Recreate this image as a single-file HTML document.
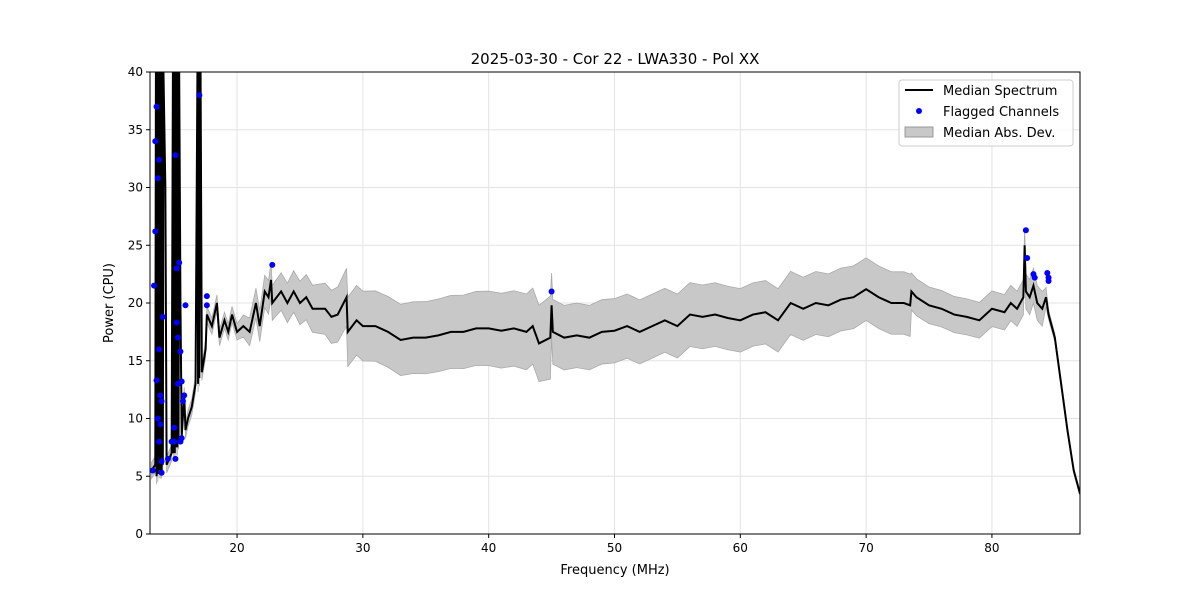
<!DOCTYPE html>
<html><head><meta charset="utf-8"><style>
body{margin:0;background:#fff;}
svg text{font-family:"DejaVu Sans","Liberation Sans",sans-serif;fill:#000;}
</style></head><body>
<svg width="1200" height="600">
<defs><clipPath id="cp"><rect x="150" y="72" width="930" height="462"/></clipPath></defs>
<g id="grid"></g>
<g id="band" clip-path="url(#cp)"></g>
<g id="line"></g>
<g id="pts"></g>
<g id="axes"></g>
<text x="615" y="64" font-size="15" text-anchor="middle">2025-03-30 - Cor 22 - LWA330 - Pol XX</text>
<text x="615" y="574" font-size="13" text-anchor="middle">Frequency (MHz)</text>
<text x="113" y="303" font-size="13" text-anchor="middle" transform="rotate(-90 113 303)">Power (CPU)</text>
<g>
<rect x="899" y="80" width="174" height="66" rx="3" fill="#fff" fill-opacity="0.8" stroke="#ccc"/>
<line x1="905" y1="90" x2="933" y2="90" stroke="#000" stroke-width="2"/>
<text x="943" y="95" font-size="13">Median Spectrum</text>
<circle cx="919" cy="111" r="3" fill="#00f"/>
<text x="943" y="116" font-size="13">Flagged Channels</text>
<rect x="905" y="127" width="28" height="10" fill="#c8c8c8" stroke="#999"/>
<text x="943" y="137" font-size="13">Median Abs. Dev.</text>
</g>
</svg>
<script>
const medFreq=[13.2,13.5,13.55,13.6,13.65,13.7,13.75,13.8,13.85,13.9,13.95,14.0,14.05,14.1,14.15,14.3,14.4,14.6,14.8,14.9,14.95,15.0,15.05,15.1,15.15,15.2,15.25,15.3,15.35,15.4,15.5,15.6,15.8,15.9,16.1,16.4,16.7,16.85,16.9,16.95,17.0,17.05,17.1,17.2,17.5,17.6,18,18.4,18.6,19,19.3,19.6,20,20.5,21,21.5,21.8,22.2,22.5,22.7,22.8,23.5,24,24.5,25,25.5,26,27,27.5,28,28.7,28.8,29.5,30,31,32,33,34,35,36,37,38,39,40,41,42,43,43.5,44,44.9,45,45.1,46,47,48,49,50,51,52,53,54,55,56,57,58,59,60,61,62,63,64,65,66,67,68,69,70,71,72,73,73.5,73.6,74,75,76,77,78,79,80,81,81.5,82,82.5,82.6,82.7,83,83.3,83.6,84,84.3,84.5,85,85.5,86,86.5,87];
const medVal=[5.5,6,40,5,40,5.2,40,5.5,40,5.5,40,5.5,40,6,40,30,6,6.5,7,40,7,40,7,40,7.5,40,7.5,40,8,40,20,8.5,12,9,10,11,13,40,13,40,13.5,40,40,14,16,19,18,20,17,18.5,17.5,19,17.5,18,17.5,20,18,21,20.5,22,20,21,20,21,20,20.5,19.5,19.5,18.8,19,20.5,17.5,18.5,18,18,17.5,16.8,17,17,17.2,17.5,17.5,17.8,17.8,17.6,17.8,17.5,18,16.5,17,19.8,17.5,17,17.2,17,17.5,17.6,18,17.5,18,18.5,18,19,18.8,19,18.7,18.5,19,19.2,18.5,20,19.5,20,19.8,20.3,20.5,21.2,20.5,20,20,19.8,21,20.5,19.8,19.5,19,18.8,18.5,19.5,19.2,20,19.5,20.5,25,21,20.5,21.5,20,19.5,20.5,19,17,13,9,5.5,3.5];
const madFreq=[13.2,20,21,28.7,28.8,44,44.9,45,73.5,73.6,84,84.5,87];
const madVal=[0.7,0.7,1.2,2.5,3,3.3,3.6,2.8,2.7,1.6,1.5,0.4,0.2];
const flagFreq=[13.3,13.4,13.5,13.5,13.6,13.6,13.7,13.8,13.8,13.9,14.0,14.0,13.9,14.1,13.7,13.8,14.0,14.5,14.8,15.1,15.0,15.1,15.2,15.3,15.2,15.4,15.5,15.3,15.6,15.7,15.8,15.9,15.5,15.6,15.0,17.0,17.6,17.6,22.8,45.0,82.7,82.8,83.3,83.4,84.4,84.5,84.5];
const flagVal=[5.5,21.5,26.2,34,37,13.3,30.8,16,32.4,12,11.5,5.3,9.5,18.8,10,8,6.3,6.5,8,32.8,9.2,6.5,18.3,17,23,23.5,15.8,13,13.2,11.5,12,19.8,8,8.3,8,38,20.6,19.8,23.3,21,26.3,23.9,22.5,22.2,22.6,22.2,21.9];
const xTicks=[20,30,40,50,60,70,80];
const yTicks=[0,5,10,15,20,25,30,35,40];
const L=150,R=1080,T=72,B=534,X0=13.08,X1=87.0,Y0=0,Y1=40;
const xs=f=>L+(f-X0)/(X1-X0)*(R-L);
const ys=v=>B-(Math.min(v,42)-Y0)/(Y1-Y0)*(B-T);
const NS='http://www.w3.org/2000/svg';
function mk(t,a,p){const e=document.createElementNS(NS,t);for(const k in a)e.setAttribute(k,a[k]);p.appendChild(e);return e;}
function interp(fs,vs,f){for(let i=1;i<fs.length;i++){if(f<=fs[i]){const t=(f-fs[i-1])/(fs[i]-fs[i-1]);return vs[i-1]+t*(vs[i]-vs[i-1]);}}return vs[vs.length-1];}
const grid=document.getElementById('grid'),axes=document.getElementById('axes');
xTicks.forEach(t=>{const x=xs(t);
const g=mk('line',{x1:x,x2:x,y1:T,y2:B,stroke:'#e3e3e3'},grid);

mk('line',{x1:x,x2:x,y1:B,y2:B+4,stroke:'#000'},axes);
const tx=mk('text',{x:x,y:B+18,'font-size':12,'text-anchor':'middle'},axes);tx.textContent=t;
});
yTicks.forEach(t=>{const y=ys(t);
const g=mk('line',{x1:L,x2:R,y1:y,y2:y,stroke:'#e3e3e3'},grid);

mk('line',{x1:L-4,x2:L,y1:y,y2:y,stroke:'#000'},axes);
const tx=mk('text',{x:L-7,y:y+4,'font-size':12,'text-anchor':'end'},axes);tx.textContent=t;
});
const frame=mk('rect',{x:L,y:T,width:R-L,height:B-T,fill:'none',stroke:'#000'},axes);

let up=[],lo=[];
medFreq.forEach((f,i)=>{const m=interp(madFreq,madVal,f);const v=Math.min(medVal[i],40);up.push(xs(f)+','+ys(v+m));lo.push(xs(f)+','+ys(Math.max(v-m,0)));});
const band=mk('polygon',{points:up.concat(lo.reverse()).join(' '),fill:'#c8c8c8',stroke:'#aaa','stroke-width':0.8},document.getElementById('band'));

const ln=mk('polyline',{points:medFreq.map((f,i)=>xs(f)+','+ys(medVal[i])).join(' '),fill:'none',stroke:'#000','stroke-width':2,'clip-path':'url(#cp)'},document.getElementById('line'));

const pts=document.getElementById('pts');
flagFreq.forEach((f,i)=>{const c=mk('circle',{cx:xs(f),cy:ys(flagVal[i]),r:3,fill:'#00f'},pts);
});
</script>
</body></html>
